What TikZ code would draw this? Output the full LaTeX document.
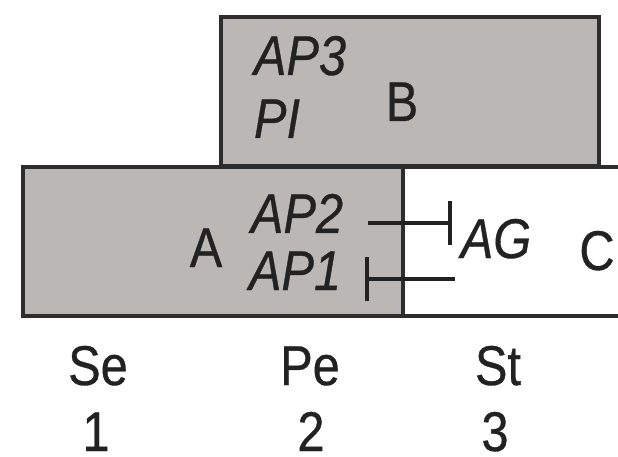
\documentclass[tikz,border=0pt]{standalone}
\usepackage{fontspec}
\setmainfont[FakeStretch=0.87,FakeBold=0.6]{Liberation Sans}
\usetikzlibrary{arrows.meta}
\definecolor{panel}{RGB}{186,183,181}
\definecolor{ink}{RGB}{34,34,34}
\definecolor{edge}{RGB}{45,45,45}
\begin{document}
\begin{tikzpicture}[x=1pt,y=-1pt,
  lbl/.style={inner sep=0pt, anchor=base, text=ink, font=\fontsize{56}{60}\selectfont},
  ilbl/.style={lbl, font=\fontsize{56}{60}\selectfont\itshape},
  frame/.style={draw=edge, line width=4pt},
  inh/.style={draw=ink, line width=3.5pt, -{Bar[width=44pt]}}]
\useasboundingbox (0,0) rectangle (618,457);
\clip (0,0) rectangle (618,457);
\fill[white] (0,0) rectangle (618,457);
% upper compartment B
\filldraw[frame, fill=panel] (221,17) rectangle (599,166);
% lower band: shaded A, open C
\fill[panel] (23,167) rectangle (403,316);
\fill[white] (403,167) rectangle (640,316);
\draw[frame] (640,167) -- (23,167) -- (23,316) -- (640,316);
\draw[frame] (403,167) -- (403,316);
% labels
\node[ilbl] (ap3) at (300,75) {AP3};
\node[ilbl] (pi)  at (277,138) {PI};
\node[lbl]  (b)   at (402,121) {B};
\node[lbl]  (a)   at (206,267) {A};
\node[ilbl] (ap2) at (297,233) {AP2};
\node[ilbl] (ap1) at (295,290) {AP1};
\node[ilbl] (ag)  at (496,258) {AG};
\node[lbl]  (c)   at (597,270) {C};
\node[lbl]  (se)  at (98,385)  {Se};
\node[lbl]  (pe)  at (310,385) {Pe};
\node[lbl]  (st)  at (498,385) {St};
\node[lbl]  (n1)  at (96,451)  {1};
\node[lbl]  (n2)  at (311,451) {2};
\node[lbl]  (n3)  at (495,451) {3};
% inhibition links
\coordinate (row2) at (0,223);
\coordinate (row1) at (0,279);
\draw[inh] ([xshift=25pt]ap2.east |- row2) -- ([xshift=-9pt]ag.west |- row2);
\draw[inh] ([xshift=-6pt]ag.west |- row1) -- ([xshift=24pt]ap1.east |- row1);
\end{tikzpicture}
\end{document}
